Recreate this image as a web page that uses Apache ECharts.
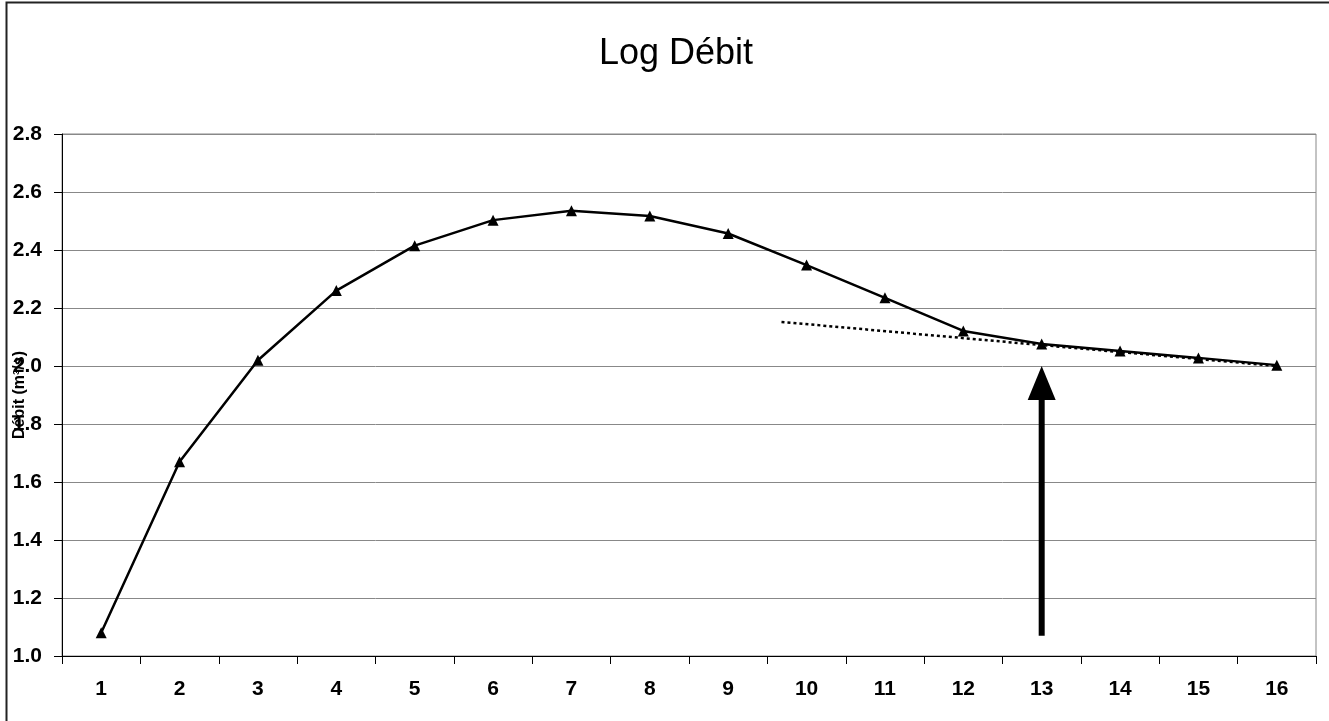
<!DOCTYPE html>
<html>
<head>
<meta charset="utf-8">
<script src="https://cdn.jsdelivr.net/npm/echarts@6/dist/echarts.min.js"></script>
<style>
html,body{margin:0;padding:0;background:#fff;}
#chart{width:1329px;height:721px;}
</style>
</head>
<body>
<div id="chart"></div>
<script>
const categories = ['1','2','3','4','5','6','7','8','9','10','11','12','13','14','15','16'];
const debitLog = [1.08, 1.67, 2.02, 2.26, 2.415, 2.503, 2.535, 2.517, 2.457, 2.348, 2.235, 2.121, 2.076, 2.052, 2.028, 2.003];
const trendX = [9.68, 16];
const trendY = [2.152, 2.0];
const arrowX = 13;
const arrowBottom = 1.07;
const arrowTip = 2.0;

const chart = echarts.init(document.getElementById('chart'));
const font = 'Arial, "Liberation Sans", sans-serif';
chart.setOption({
  animation: false,
  backgroundColor: '#fff',
  title: {
    text: 'Log Débit',
    left: 671, top: 31, textAlign: 'center',
    textStyle: {fontFamily: font, fontSize: 36, fontWeight: 'normal', color: '#000'}
  },
  graphic: [{
    type: 'rect', silent: true,
    shape: {x: 6.5, y: 2.5, width: 1340, height: 740},
    style: {fill: 'none', stroke: '#222', lineWidth: 2}
  }],
  grid: {left: 62, right: 13, top: 134, bottom: 65, show: true, borderColor: '#888', borderWidth: 1,
    containLabel: false, outerBoundsMode: 'none'},
  xAxis: [{
    type: 'category', data: categories, boundaryGap: true,
    axisLine: {lineStyle: {color: '#000', width: 1}},
    axisTick: {show: true, alignWithLabel: false, length: 8, lineStyle: {color: '#000'}},
    axisLabel: {fontFamily: font, fontSize: 21, fontWeight: 'bold', color: '#000', margin: 23},
    splitLine: {show: false}
  }, {
    type: 'value', min: 0.5, max: 16.5, show: false
  }],
  yAxis: {
    type: 'value', min: 1.0, max: 2.8, interval: 0.2,
    name: 'Débit (m³/s)', nameLocation: 'middle', nameRotate: 90, nameGap: 34, nameMoveOverlap: false,
    nameTextStyle: {fontFamily: font, fontSize: 16, fontWeight: 'bold', color: '#000'},
    axisLine: {show: true, lineStyle: {color: '#000', width: 1}},
    axisTick: {show: true, length: 8, lineStyle: {color: '#000'}},
    axisLabel: {fontFamily: font, fontSize: 21, fontWeight: 'bold', color: '#000', margin: 20,
      formatter: v => v.toFixed(1)},
    splitLine: {show: true, lineStyle: {color: '#888', width: 1}}
  },
  series: [{
    type: 'line', data: debitLog, xAxisIndex: 0,
    symbol: 'triangle', symbolSize: 11, showSymbol: true,
    itemStyle: {color: '#000'},
    lineStyle: {color: '#000', width: 2.5}, z: 3
  }, {
    type: 'line', xAxisIndex: 1,
    data: trendX.map((x, i) => [x, trendY[i]]),
    symbol: 'none', lineStyle: {color: '#000', width: 2.5, type: [3, 3]}, z: 2
  }, {
    type: 'line', xAxisIndex: 1,
    data: [[arrowX, arrowBottom], [arrowX, arrowTip - 0.11]],
    symbol: 'none', lineStyle: {color: '#000', width: 6, cap: 'butt'}, z: 4
  }, {
    type: 'scatter', xAxisIndex: 1,
    data: [[arrowX, arrowTip]],
    symbol: 'triangle', symbolSize: [28, 34], symbolOffset: [0, 17],
    itemStyle: {color: '#000', opacity: 1}, z: 4
  }]
});
</script>
</body>
</html>
